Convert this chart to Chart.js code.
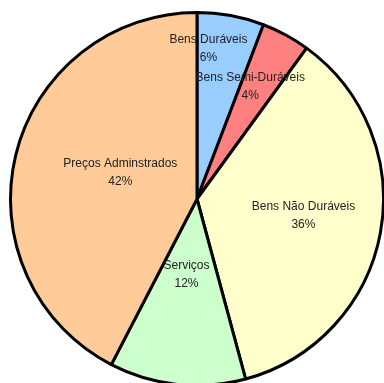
<!DOCTYPE html>
<html>
<head>
<meta charset="utf-8">
<script src="https://cdn.jsdelivr.net/npm/chart.js@4"></script>
<style>
  html, body { margin: 0; padding: 0; overflow: hidden; background: #fff; }
  #wrap { width: 386px; height: 387px; position: relative; }
</style>
</head>
<body>
<div id="wrap"><canvas id="pie"></canvas></div>
<script>
const categories = ['Bens Duráveis', 'Bens Semi-Duráveis', 'Bens Não Duráveis', 'Serviços', 'Preços Adminstrados'];
const shares = [5.8, 4.2, 35.8, 11.8, 42.4];
const percentLabels = ['6%', '4%', '36%', '12%', '42%'];

const sliceColors = ['#99CCFF', '#FF8080', '#FFFFCC', '#CCFFCC', '#FFCC99'];

// label placement: angle shift (deg) from slice middle and fraction of radius
const labelPlacement = [
    { shift: -6.1, frac: 0.81 },
    { shift: -3.0, frac: 0.665 },
    { shift: -1.4, frac: 0.578 },
    { shift: 1.8, frac: 0.408 },
    { shift: 5.0, frac: 0.434 }
];

const sliceLabels = {
    id: 'sliceLabels',
    afterDatasetsDraw(chart) {
        const ctx = chart.ctx;
        const meta = chart.getDatasetMeta(0);
        ctx.save();
        ctx.font = '12px "Liberation Sans", Arial, sans-serif';
        ctx.fillStyle = '#222';
        ctx.textAlign = 'center';
        ctx.textBaseline = 'middle';
        meta.data.forEach((arc, i) => {
            const p = arc.getProps(['x', 'y', 'startAngle', 'endAngle', 'outerRadius'], true);
            const ang = (p.startAngle + p.endAngle) / 2 + labelPlacement[i].shift * Math.PI / 180;
            const r = p.outerRadius * labelPlacement[i].frac;
            const cx = p.x + Math.cos(ang) * r;
            const cy = p.y + Math.sin(ang) * r;
            ctx.fillText(categories[i], cx, cy - 9);
            ctx.fillText(percentLabels[i], cx, cy + 9);
        });
        ctx.restore();
    }
};

new Chart(document.getElementById('pie').getContext('2d'), {
    type: 'pie',
    data: {
        labels: categories,
        datasets: [{
            data: shares,
            backgroundColor: sliceColors,
            borderColor: '#000',
            borderWidth: 3,
            borderAlign: 'center'
        }]
    },
    options: {
        responsive: true,
        maintainAspectRatio: false,
        animation: false,
        layout: { padding: { left: 9, top: 11, right: 1, bottom: 0 } },
        plugins: {
            legend: { display: false },
            tooltip: { enabled: false }
        }
    },
    plugins: [sliceLabels]
});
</script>
</body>
</html>
